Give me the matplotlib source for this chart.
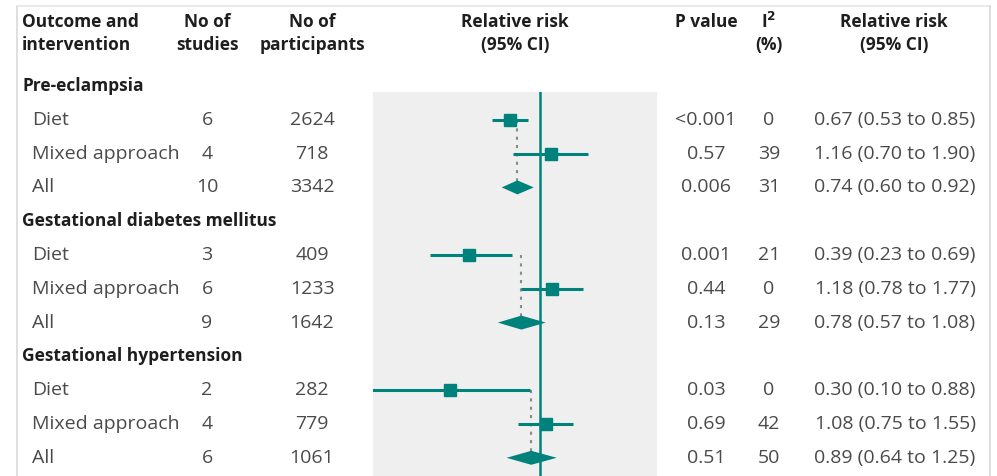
import matplotlib.pyplot as plt
import numpy as np

# groups and subrows
groups = ['Pre-eclampsia', 'Gestational diabetes mellitus', 'Gestational hypertension']
interventions = ['Diet', 'Mixed approach', 'All']
n_studies = [[6, 4, 10], [3, 6, 9], [2, 4, 6]]
n_participants = [[2624, 718, 3342], [409, 1233, 1642], [282, 779, 1061]]
rr = [[0.67, 1.16, 0.74], [0.39, 1.18, 0.78], [0.30, 1.08, 0.89]]
ci_low = [[0.53, 0.70, 0.60], [0.23, 0.78, 0.57], [0.10, 0.75, 0.64]]
ci_high = [[0.85, 1.90, 0.92], [0.69, 1.77, 1.08], [0.88, 1.55, 1.25]]
p_values = [['<0.001', '0.57', '0.006'], ['0.001', '0.44', '0.13'], ['0.03', '0.69', '0.51']]
i2 = [[0, 39, 31], [21, 0, 29], [0, 42, 50]]

teal = '#00827c'
dark = '#1e1e1e'
grey_txt = '#4a4a4a'

plt.rcParams['font.family'] = ['Open Sans', 'DejaVu Sans']

W, H = 997, 476
fig = plt.figure(figsize=(W / 100, H / 100), dpi=100)

# background axes in pixel units
bg = fig.add_axes([0, 0, 1, 1])
bg.set_xlim(0, W)
bg.set_ylim(H, 0)
bg.axis('off')

# frame
bg.plot([17, 17], [6, H], color='#d9d9d9', lw=1.2)
bg.plot([17, 990], [6, 6], color='#e6e6e6', lw=1.2)
bg.plot([990, 990], [6, H], color='#d9d9d9', lw=1.2)

hfs = 12.5
fs = 14
hdr = dict(fontsize=hfs, fontweight='bold', color=dark, va='center')
bg.text(22, 22, 'Outcome and', ha='left', **hdr)
bg.text(22, 45, 'intervention', ha='left', **hdr)
bg.text(207, 22, 'No of', ha='center', **hdr)
bg.text(207, 45, 'studies', ha='center', **hdr)
bg.text(312, 22, 'No of', ha='center', **hdr)
bg.text(312, 45, 'participants', ha='center', **hdr)
bg.text(515, 22, 'Relative risk', ha='center', **hdr)
bg.text(515, 45, '(95% CI)', ha='center', **hdr)
bg.text(706, 22, 'P value', ha='center', **hdr)
bg.text(769, 22, r'I$^{\mathbf{2}}$', ha='center', **hdr)
bg.text(769, 45, '(%)', ha='center', **hdr)
bg.text(894, 22, 'Relative risk', ha='center', **hdr)
bg.text(894, 45, '(95% CI)', ha='center', **hdr)

# forest axes: log scale, 1 at x=540 px, 75 px per log unit
left_px, right_px, top_px = 373, 657, 92
fx = fig.add_axes([left_px / W, 0, (right_px - left_px) / W, (H - top_px) / H])
fx.set_facecolor('#efefef')
fx.set_xscale('log')
fx.set_xlim(np.exp((left_px - 540) / 75), np.exp((right_px - 540) / 75))
fx.set_ylim(H, top_px)
for s in fx.spines.values():
    s.set_visible(False)
fx.set_xticks([])
fx.set_yticks([])
fx.minorticks_off()
fx.axvline(1, color=teal, lw=1.8, zorder=3)

group_y0 = 86
dy = 33.8
for g, name in enumerate(groups):
    gy = group_y0 + g * 4 * dy
    bg.text(22, gy, name, ha='left', **hdr)
    rows_y = [gy + (k + 1) * dy for k in range(3)]
    for k, lab in enumerate(interventions):
        y = rows_y[k]
        txt = dict(fontsize=fs, color=grey_txt, va='center')
        bg.text(32, y, lab, ha='left', **txt)
        bg.text(207, y, str(n_studies[g][k]), ha='center', **txt)
        bg.text(312, y, str(n_participants[g][k]), ha='center', **txt)
        bg.text(706, y, p_values[g][k], ha='center', **txt)
        bg.text(769, y, str(i2[g][k]), ha='center', **txt)
        bg.text(895, y, '%.2f (%.2f to %.2f)' % (rr[g][k], ci_low[g][k], ci_high[g][k]),
                ha='center', **txt)
        if k < 2:
            fx.plot([ci_low[g][k], ci_high[g][k]], [y, y], color=teal, lw=2.2,
                    solid_capstyle='butt', zorder=4)
            fx.plot(rr[g][k], y, marker='s', ms=8, color=teal, mec=teal, zorder=5)
        else:
            hh = 7
            fx.fill([ci_low[g][k], rr[g][k], ci_high[g][k], rr[g][k]],
                    [y, y - hh, y, y + hh], color=teal, lw=0, zorder=5)
    # dotted line at pooled estimate
    fx.plot([rr[g][2], rr[g][2]], [rows_y[0], rows_y[2]], color='#7f8f8d',
            lw=1.5, ls=(0, (1.5, 2.5)), zorder=2)

fig.savefig('out.png', dpi=100)
